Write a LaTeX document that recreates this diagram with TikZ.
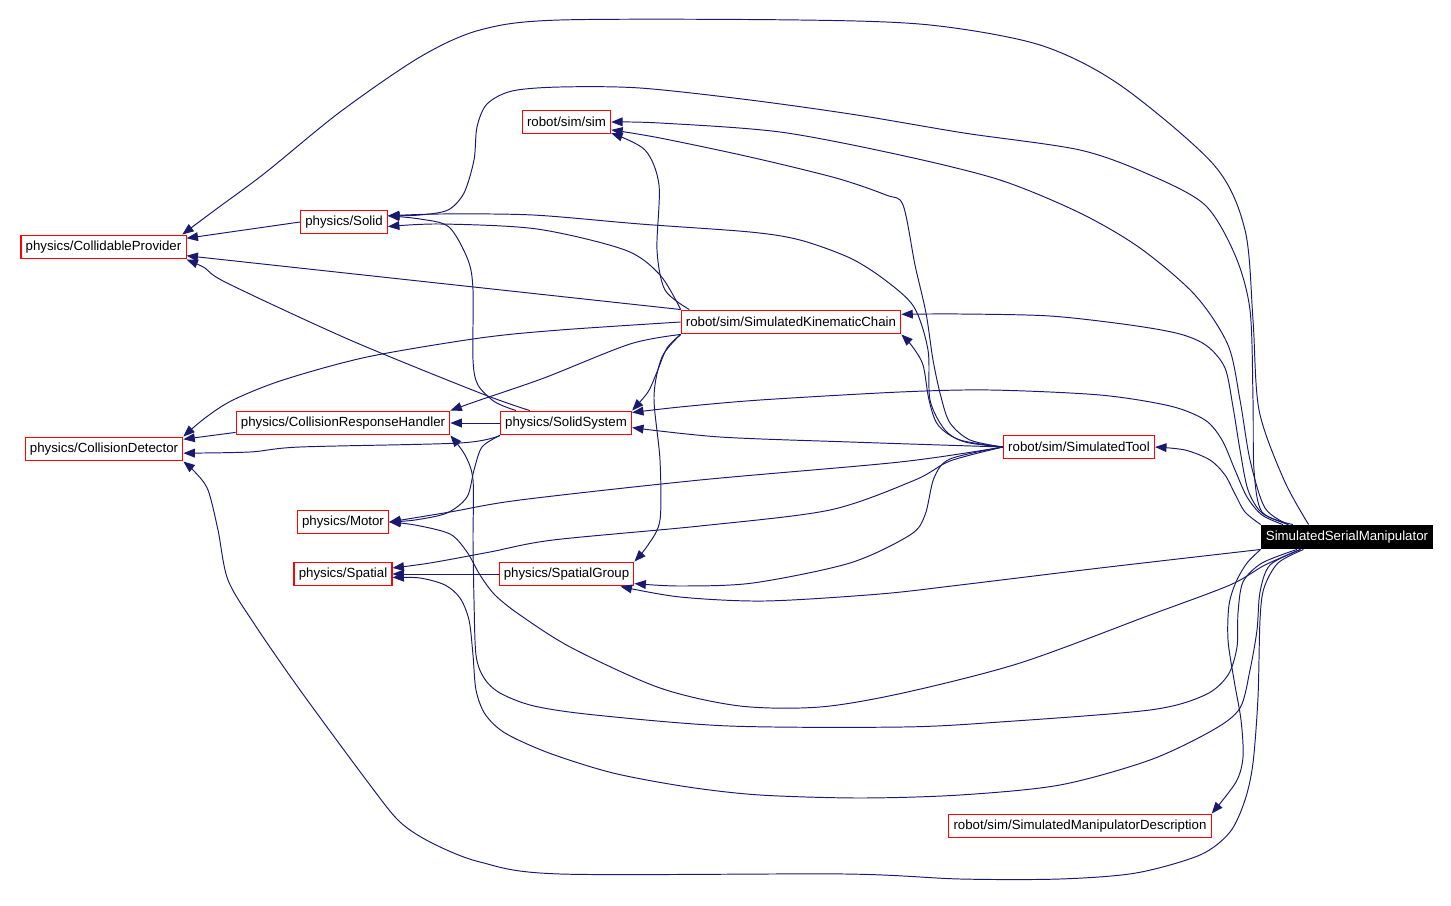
\documentclass[tikz,border=0pt]{standalone}
\usepackage{fontspec}
\setmainfont{Liberation Sans}
\usepackage{tikz}
\usetikzlibrary{arrows.meta}
\definecolor{edgeblue}{RGB}{25,25,112}

\begin{document}
\begin{tikzpicture}[
	x=0.02cm, y=-0.02cm,
	every node/.style={font=\fontsize{7.55}{9}\selectfont},
	file/.style={rectangle, draw=red, fill=white, line width=0.6pt, minimum height=13.6pt, inner xsep=2.7pt, inner ysep=1pt},
	current/.style={file, draw=black, fill=black, text=white},
	dep/.style={-{Triangle[length=6.5pt, width=5pt]}, draw=edgeblue, line width=0.55pt}
]
\useasboundingbox (0,0) rectangle (1451,906);

% Files
\node[file] (sim) at (566.5,122) {robot/sim/sim};
\node[file] (solid) at (344,222) {physics/Solid};
\node[file] (collprov) at (103.5,247) {physics/CollidableProvider};
\node[file] (kinchain) at (791,322) {robot/sim/SimulatedKinematicChain};
\node[file] (resphandler) at (343,423) {physics/CollisionResponseHandler};
\node[file] (solidsys) at (566,423) {physics/SolidSystem};
\node[file] (colldet) at (104,449) {physics/CollisionDetector};
\node[file] (simtool) at (1079,447) {robot/sim/SimulatedTool};
\node[file] (motor) at (343,522) {physics/Motor};
\node[file] (spatial) at (343,574) {physics/Spatial};
\node[file] (spgroup) at (566.5,574) {physics/SpatialGroup};
\node[current] (manip) at (1347,537) {SimulatedSerialManipulator};
\node[file] (mandesc) at (1080,826) {robot/sim/SimulatedManipulatorDescription};

% Includes of SimulatedSerialManipulator
\draw[dep] plot[smooth] coordinates {(manip.162) (1284,480) (1259,410) (1253,320) (1245,230) (1214,165) (1120,85) (1040,45) (930,25) (800,20) (560,20) (480,30) (420,57) (340,112) (265,173) (215,210) (collprov.9)};
\draw[dep] plot[smooth] coordinates {(manip.168) (1265,508) (1250,460) (1240,400) (1228,345) (1195,295) (1140,248) (1080,213) (1000,180) (900,155) (780,132) (660,123) (sim.east)};
\draw[dep] plot[smooth] coordinates {(manip.167) (1262,512) (1254,470) (1253,400) (1250,310) (1235,255) (1205,205) (1150,175) (1080,150) (964,133) (857,115) (750,100) (640,88) (560,87) (512,91) (487,104) (477,127) (474,160) (464,193) (448,210) (420,215) (solid.8)};
\draw[dep] plot[smooth] coordinates {(manip.168) (1262,513) (1248,490) (1240,450) (1233,407) (1225,368) (1207,346) (1180,334) (1130,325) (1050,316) (960,314) (kinchain.4)};
\draw[dep] plot[smooth] coordinates {(manip.169) (1262,515) (1247,497) (1235,470) (1222,440) (1205,420) (1170,406) (1100,395) (990,390) (900,392) (760,400) (680,407) (solidsys.9)};
\draw[dep] plot[smooth] coordinates {(manip.north west) (1245,512) (1235,494) (1225,475) (1210,460) (1185,450) (simtool.east)};
\draw[dep] plot[smooth] coordinates {(manip.south west) (1100,568) (960,585) (880,594) (765,601) (680,597) (spgroup.-13)};
\draw[dep] plot[smooth] coordinates {(manip.195) (1265,565) (1230,585) (1150,615) (1020,663) (903,693) (820,707) (740,706) (660,688) (572,648) (520,615) (495,595) (480,575) (467,552) (450,534) (415,525) (motor.east)};
\draw[dep] plot[smooth] coordinates {(manip.194) (1262,563) (1243,582) (1238,613) (1237,647) (1228,675) (1205,695) (1150,710) (1000,722) (903,727) (729,726) (595,715) (534,706) (500,693) (484,678) (476,655) (474,600) (473,540) (473,480) (465,455) (resphandler.south east)};
\draw[dep] plot[smooth] coordinates {(manip.195) (1270,565) (1260,592) (1257,630) (1250,670) (1240,708) (1213,730) (1150,760) (1060,785) (960,795) (860,798) (760,795) (688,787) (613,773) (549,753) (505,733) (485,714) (476,690) (473,655) (469,620) (460,598) (445,585) (420,578) (spatial.-4)};
\draw[dep] plot[smooth] coordinates {(manip.196) (1278,563) (1264,588) (1260,620) (1258,697) (1253,763) (1245,800) (1230,832) (1200,855) (1136,873) (1060,879) (960,879) (845,874) (560,874) (480,862) (432,843) (400,822) (370,785) (300,690) (255,625) (228,580) (218,530) (208,490) (195,472) (colldet.south east)};
\draw[dep] plot[smooth] coordinates {(manip.south west) (1247,563) (1236,582) (1229,605) (1228,640) (1234,680) (1241,720) (1243,757) (1236,782) (mandesc.north east)};

% Includes of SimulatedTool
\draw[dep] plot[smooth] coordinates {(simtool.west) (970,440) (950,423) (941,397) (933,360) (926,313) (915,265) (903,205) (886,195) (836,178) (750,157) (660,138) (sim.-10)};
\draw[dep] plot[smooth] coordinates {(simtool.west) (965,442) (945,430) (930,400) (928,350) (914,307) (885,280) (850,258) (800,240) (750,232) (640,224) (533,215) (440,214) (solid.8)};
\draw[dep] plot[smooth] coordinates {(simtool.west) (960,440) (938,425) (929,400) (923,365) (912,346) (kinchain.south east)};
\draw[dep] plot[smooth] coordinates {(simtool.west) (850,442) (720,437) (solidsys.-4)};
\draw[dep] plot[smooth] coordinates {(simtool.west) (900,462) (700,480) (520,500) (450,512) (motor.east)};
\draw[dep] plot[smooth] coordinates {(simtool.west) (950,461) (915,480) (830,510) (700,526) (553,540) (490,552) (430,563) (spatial.7)};
\draw[dep] plot[smooth] coordinates {(simtool.west) (950,459) (934,478) (925,515) (910,535) (850,563) (753,583) (680,586) (spgroup.-8)};

% Includes of SimulatedKinematicChain
\draw[dep] plot[smooth] coordinates {(kinchain.173) (665,290) (657,250) (659,185) (645,150) (sim.-14)};
\draw[dep] plot[smooth] coordinates {(kinchain.north west) (660,275) (625,250) (537,229) (440,224) (solid.-6)};
\draw[dep] (kinchain.north west) -- (collprov.-6);
\draw[dep] plot[smooth] coordinates {(kinchain.west) (560,330) (480,338) (367,357) (283,380) (233,400) (205,418) (colldet.north east)};
\draw[dep] plot[smooth] coordinates {(kinchain.south west) (630,344) (544,378) (480,400) (resphandler.north east)};
\draw[dep] plot[smooth] coordinates {(kinchain.south west) (667,348) (657,372) (648,392) (solidsys.north east)};
\draw[dep] plot[smooth] coordinates {(kinchain.south west) (662,357) (654,397) (660,460) (660,520) (648,545) (spgroup.north east)};

% Includes of the physics files
\draw[dep] (solid.west) -- (collprov.6);
\draw[dep] plot[smooth] coordinates {(solidsys.166) (495,402) (478,385) (473,360) (473,290) (468,260) (449,227) (420,219) (solid.8)};
\draw[dep] plot[smooth] coordinates {(solidsys.161) (480,393) (350,340) (227,283) (205,268) (collprov.south east)};
\draw[dep] (solidsys.west) -- (resphandler.east);
\draw[dep] plot[smooth] coordinates {(solidsys.south west) (460,443) (300,447) (250,452) (colldet.-3)};
\draw[dep] plot[smooth] coordinates {(solidsys.south west) (482,447) (474,470) (467,497) (447,513) (415,520) (motor.east)};
\draw[dep] (resphandler.185) -- (colldet.7);
\draw[dep] (spgroup.west) -- (spatial.east);

\end{tikzpicture}
\end{document}
